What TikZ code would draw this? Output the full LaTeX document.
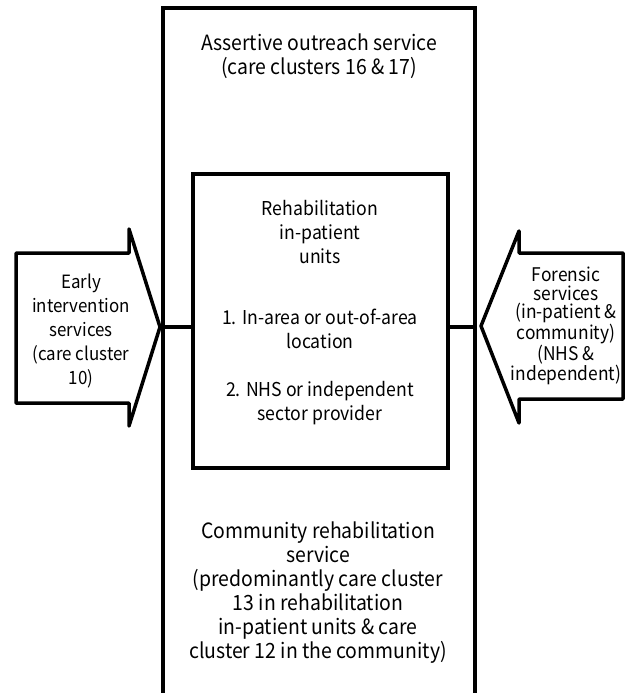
\documentclass[tikz,border=0pt]{standalone}
\usepackage{fontspec}
\setmainfont{Noto Sans CJK KR}[FakeStretch=0.925]
\begin{document}
\begin{tikzpicture}[x=1pt,y=-1pt,
  shape line/.style={line width=3.5pt,line join=miter},
  arrow line/.style={line width=3.5pt,line join=round},
  label text/.style={align=center,inner sep=0pt,font=\fontsize{21}{24}\selectfont},
  inner text/.style={align=center,inner sep=0pt,font=\fontsize{19.1}{24}\selectfont},
  early text/.style={align=center,inner sep=0pt,font=\fontsize{18.3}{24}\selectfont},
  tight text/.style={align=center,inner sep=0pt,font=\fontsize{18.8}{18.4}\selectfont}]
\useasboundingbox (0,0) rectangle (629,693);
% outer service column (open at the bottom)
\coordinate (oBL) at (163,693);
\coordinate (oTL) at (163,8);
\coordinate (oTR) at (475,8);
\coordinate (oBR) at (475,693);
\draw[shape line] (oBL) -- (oTL) -- (oTR) -- (oBR);
\coordinate (oL) at (163,327);
\coordinate (oR) at (475,327);
% inner box
\node[shape line,draw,minimum width=255pt,minimum height=294pt,inner sep=0pt] (rehab) at (320.5,321) {};
\draw[shape line] (oL) -- (rehab.west |- oL);
\draw[shape line] (rehab.east |- oR) -- (oR);
% left block arrow
\coordinate (lt) at (160,327);
\draw[arrow line] (16,253) -- (129,253) -- (129,229) -- (lt) -- (129,426) -- (129,403) -- (16,403) -- cycle;
% right block arrow
\coordinate (rt) at (481,326);
\draw[arrow line] (rt) -- (519,231) -- (519,253) -- (623,253) -- (623,399) -- (519,399) -- (519,423) -- cycle;
% texts
\node[label text] (top) at (319,56) {Assertive outreach service\\(care clusters 16 \& 17)};
\node[inner text,anchor=north] (rehabtext) at (320,200) {Rehabilitation\\in-patient\\units\\[37pt]1. In-area or out-of-area\\location\\[24pt]2. NHS or independent\\sector provider};
\node[label text] (bottom) at (318,593) {Community rehabilitation\\service\\(predominantly care cluster\\13 in rehabilitation\\in-patient units \& care\\cluster 12 in the community)};
\node[early text] (early) at (81,331) {Early\\intervention\\services\\(care cluster\\10)};
\node[tight text] (forensic) at (566,326) {Forensic\\services\\(in-patient \&\\community)\\(NHS \&\\independent)};
\end{tikzpicture}
\end{document}
